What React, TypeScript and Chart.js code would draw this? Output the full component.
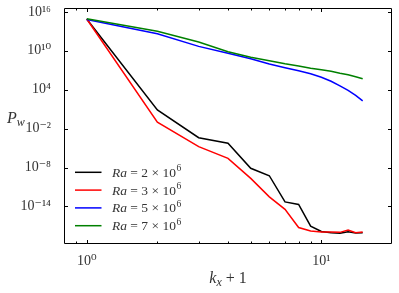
import React, { useEffect, useRef } from "react";
import { Chart, registerables } from "chart.js";

Chart.register(...registerables);

// x = k_x + 1
const kx1 = [1, 2, 3, 4, 5, 6, 7, 8, 9, 10, 11, 12, 13, 14, 15];

const ra2e6 = [8e14, 7.8e0, 4e-4, 5.5e-5, 7.6e-9, 5.4e-10, 5e-14, 2e-14, 9e-18, 1.4e-18, 9e-19, 7.5e-19, 1.2e-18, 8e-19, 8.5e-19];
const ra3e6 = [8e14, 9.8e-2, 1.7e-5, 2.6e-7, 2.1e-10, 3e-13, 3.5e-15, 5.6e-18, 1.6e-18, 1.1e-18, 1.1e-18, 1e-18, 2.2e-18, 9e-19, 1.1e-18];
const ra5e6 = [7e14, 4.4e12, 4.8e10, 4.3e9, 6e8, 9e7, 2.5e7, 8.3e6, 2.9e6, 8.3e5, 2e5, 4e4, 8e3, 1.35e3, 1.9e2];
const ra7e6 = [9e14, 1e13, 2.3e11, 7.2e9, 1e9, 3e8, 1e8, 4.5e7, 2e7, 1.2e7, 7e6, 3.5e6, 2e6, 1e6, 4.9e5];

const seriesNames = ["2", "3", "5", "7"];
const seriesColors = ["#000000", "#ff0000", "#0000ff", "#008000"];

const xMajorTicks = [1, 10];
const xMajorLabels = ["10\u2070", "10\u00b9"];
const xMinorTicks = [0.9, 2, 3, 4, 5, 6, 7, 8, 9];
const yMajorTicks = [1e-14, 1e-8, 1e-2, 1e4, 1e10, 1e16];
const yMajorLabels = ["10\u207b\u00b9\u2074", "10\u207b\u2078", "10\u207b\u00b2", "10\u2074", "10\u00b9\u2070", "10\u00b9\u2076"];

const SERIF = '"Liberation Serif", "DejaVu Serif", serif';
const TEXT = "#333333";

const decor = {
  id: "decor",
  afterDraw(chart: any) {
    const { ctx, chartArea: a, scales } = chart;
    const xs = scales.x;
    const ys = scales.y;
    ctx.save();
    ctx.strokeStyle = "#000";
    ctx.lineWidth = 1;
    const L = Math.round(a.left) + 0.5;
    const R = Math.round(a.right) - 0.5;
    const T = Math.round(a.top) + 0.5;
    const B = Math.round(a.bottom) - 0.5;
    ctx.beginPath();
    ctx.rect(L, T, R - L, B - T);
    ctx.stroke();
    ctx.beginPath();
    const xt = (v: number, len: number) => {
      const px = Math.round(xs.getPixelForValue(v)) + 0.5;
      ctx.moveTo(px, B);
      ctx.lineTo(px, B - len);
      ctx.moveTo(px, T);
      ctx.lineTo(px, T + len);
    };
    xMajorTicks.forEach((v) => xt(v, 3.5));
    xMinorTicks.forEach((v) => xt(v, 2));
    yMajorTicks.forEach((v) => {
      const py = Math.round(ys.getPixelForValue(v)) + 0.5;
      ctx.moveTo(L, py);
      ctx.lineTo(L + 3.5, py);
      ctx.moveTo(R, py);
      ctx.lineTo(R - 3.5, py);
    });
    ctx.stroke();

    // axis titles
    ctx.fillStyle = TEXT;
    ctx.textBaseline = "alphabetic";
    ctx.textAlign = "left";
    ctx.font = `italic 16px ${SERIF}`;
    ctx.fillText("P", 7, 123);
    const pw = ctx.measureText("P").width;
    ctx.font = `italic 12px ${SERIF}`;
    ctx.fillText("w", 7 + pw, 126);

    const cx = (a.left + a.right) / 2;
    ctx.font = `italic 16px ${SERIF}`;
    const kw = ctx.measureText("k").width;
    ctx.font = `italic 12px ${SERIF}`;
    const xw = ctx.measureText("x").width;
    ctx.font = `16px ${SERIF}`;
    const rest = " + 1";
    const rw = ctx.measureText(rest).width;
    let sx = cx - (kw + xw + rw) / 2;
    ctx.font = `italic 16px ${SERIF}`;
    ctx.fillText("k", sx, 283);
    sx += kw;
    ctx.font = `italic 12px ${SERIF}`;
    ctx.fillText("x", sx, 286);
    sx += xw;
    ctx.font = `16px ${SERIF}`;
    ctx.fillText(rest, sx, 283);

    // legend
    chart.data.datasets.forEach((ds: any, i: number) => {
      const yy = 172.3 + i * 17.8;
      ctx.strokeStyle = ds.borderColor;
      ctx.lineWidth = 1.5;
      ctx.beginPath();
      ctx.moveTo(75, yy);
      ctx.lineTo(101.5, yy);
      ctx.stroke();
      let tx = 112;
      const base = yy + 4.5;
      ctx.fillStyle = TEXT;
      ctx.font = `italic 13.5px ${SERIF}`;
      ctx.fillText("Ra", tx, base);
      tx += ctx.measureText("Ra").width;
      ctx.font = `13.5px ${SERIF}`;
      const mid = ` = ${seriesNames[i]} \u00d7 10`;
      ctx.fillText(mid, tx, base);
      tx += ctx.measureText(mid).width;
      ctx.font = `9.5px ${SERIF}`;
      ctx.fillText("6", tx + 0.5, base - 5.5);
    });
    ctx.restore();
  },
};

export default function App() {
  const ref = useRef<HTMLCanvasElement | null>(null);
  useEffect(() => {
    if (!ref.current) return;
    const all = [ra2e6, ra3e6, ra5e6, ra7e6];
    const chart = new Chart(ref.current, {
      type: "line",
      data: {
        datasets: all.map((vals, i) => ({
          label: `Ra = ${seriesNames[i]} × 10⁶`,
          data: kx1.map((k, j) => ({ x: k, y: vals[j] })),
          borderColor: seriesColors[i],
          backgroundColor: seriesColors[i],
          borderWidth: 1.5,
          pointRadius: 0,
          tension: 0,
          fill: false,
          order: 4 - i,
        })),
      },
      options: {
        responsive: false,
        animation: false,
        devicePixelRatio: 1,
        layout: { padding: { left: 0, right: 7, top: 8, bottom: 0 } },
        plugins: { legend: { display: false }, tooltip: { enabled: false } },
        scales: {
          x: {
            type: "logarithmic",
            position: "bottom",
            min: 0.8,
            max: 20,
            grid: { display: false },
            border: { display: false },
            afterBuildTicks: (s: any) => {
              s.ticks = xMajorTicks.map((v) => ({ value: v }));
            },
            afterFit: (s: any) => {
              s.height = 49;
              s.paddingLeft = 0;
              s.paddingRight = 0;
            },
            ticks: {
              autoSkip: false,
              maxRotation: 0,
              padding: 1,
              color: TEXT,
              font: { family: SERIF, size: 14 },
              callback: (v: any) => {
                const i = xMajorTicks.indexOf(Number(v));
                return i >= 0 ? xMajorLabels[i] : "";
              },
            },
          },
          y: {
            type: "logarithmic",
            position: "left",
            min: 1.6e-20,
            max: 4e16,
            grid: { display: false },
            border: { display: false },
            afterBuildTicks: (s: any) => {
              s.ticks = yMajorTicks.map((v) => ({ value: v }));
            },
            afterFit: (s: any) => {
              s.width = 64;
              s.paddingTop = 0;
              s.paddingBottom = 0;
            },
            ticks: {
              autoSkip: false,
              padding: 5,
              color: TEXT,
              font: { family: SERIF, size: 14 },
              callback: (v: any) => {
                const i = yMajorTicks.findIndex((t) => Math.abs(Math.log10(t) - Math.log10(Number(v))) < 1e-6);
                return i >= 0 ? yMajorLabels[i] : "";
              },
            },
          },
        },
      },
      plugins: [decor],
    });
    return () => chart.destroy();
  }, []);
  return (
    <div style={{ position: "absolute", left: 0, top: 0, width: 399, height: 293, background: "#fff" }}>
      <canvas ref={ref} width={399} height={293} style={{ display: "block" }} />
    </div>
  );
}
